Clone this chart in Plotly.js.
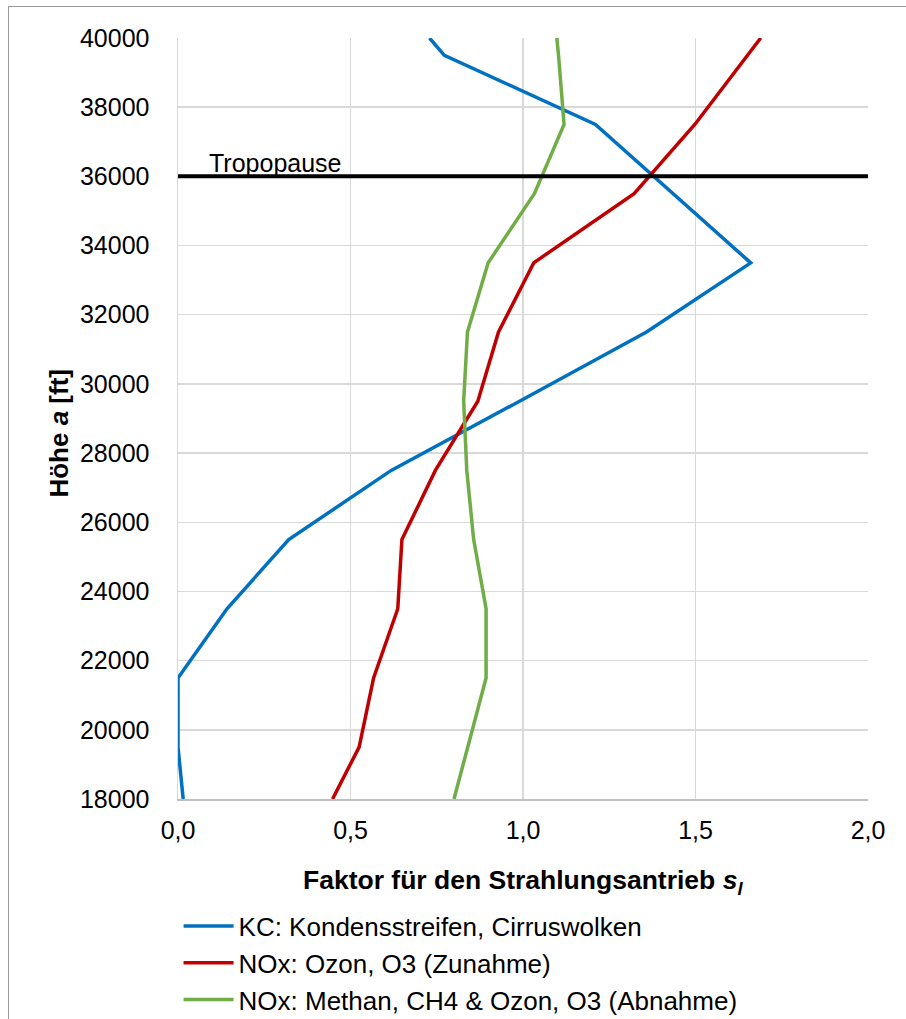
<!DOCTYPE html>
<html>
<head>
<meta charset="utf-8">
<script src="https://cdn.plot.ly/plotly-3.0.1.min.js"></script>
<style>
  html, body { margin:0; padding:0; background:#fff; }
  #wrap { position:relative; width:906px; height:1019px; }
  #chart { width:906px; height:1019px; }
  #frame { position:absolute; left:8px; top:6px; width:910px; height:1030px; border:1.5px solid #9a9a9a; pointer-events:none; box-sizing:border-box; }
</style>
</head>
<body>
<div id="wrap">
  <div id="chart"></div>
  <div id="frame"></div>
</div>
<script>
// Höhe [ft]
const heights = [18000, 19500, 21500, 23500, 25500, 27500, 29500, 31500, 33500, 35500, 37500, 39500, 40000];
// KC: Kondensstreifen, Cirruswolken
const kcValues = [0.015, 0.0, 0.0, 0.142, 0.321, 0.618, 0.99, 1.358, 1.66, 1.435, 1.21, 0.772, 0.729];
// NOx: Ozon, O3 (Zunahme)
const ozonValues = [0.448, 0.525, 0.567, 0.637, 0.649, 0.746, 0.869, 0.929, 1.031, 1.322, 1.498, 1.651, 1.689];
// NOx: Methan, CH4 & Ozon, O3 (Abnahme)
const methanValues = [0.800, 0.840, 0.893, 0.893, 0.857, 0.837, 0.828, 0.839, 0.899, 1.033, 1.119, 1.103, 1.098];

const seriesNames = [
  "KC: Kondensstreifen, Cirruswolken",
  "NOx: Ozon, O3 (Zunahme)",
  "NOx: Methan, CH4 & Ozon, O3 (Abnahme)"
];
const seriesColors = ["#0070C0", "#C00000", "#70AD47"];

const tropopauseHeight = 36000;
const tropopauseLabel = "Tropopause";
const xTicks = [0, 0.5, 1.0, 1.5, 2.0];
const yTicks = [18000, 20000, 22000, 24000, 26000, 28000, 30000, 32000, 34000, 36000, 38000, 40000];
const xRange = [0, 2];
const yRange = [18000, 40000];

const FONT = "Liberation Sans, Arial, sans-serif";

const traces = [kcValues, ozonValues, methanValues].map((vals, i) => ({
  x: vals, y: heights, type: "scatter", mode: "lines",
  name: seriesNames[i],
  line: { color: seriesColors[i], width: 3.5 },
  hoverinfo: "skip"
}));

const layout = {
  width: 906, height: 1019,
  margin: { l: 177.5, r: 37.7, t: 37.5, b: 219.5, autoexpand: false },
  paper_bgcolor: "#fff", plot_bgcolor: "#fff",
  separators: ",.",
  font: { family: FONT, color: "#000", size: 24 },
  showlegend: true,
  legend: {
    x: 0.0008, xanchor: "left", y: -0.136, yanchor: "top",
    font: { family: FONT, size: 26, color: "#000" },
    itemwidth: 50, tracegroupgap: 0, bgcolor: "rgba(0,0,0,0)"
  },
  xaxis: {
    range: xRange, tickvals: xTicks, tickformat: ".1f",
    showgrid: true, gridcolor: "#d9d9d9", gridwidth: 1.5,
    zeroline: false, showline: true, linecolor: "#bfbfbf", linewidth: 2,
    ticks: "", ticklabelstandoff: 8,
    tickfont: { family: FONT, size: 25, color: "#000" },
    fixedrange: true
  },
  yaxis: {
    range: yRange, tickvals: yTicks, tickformat: "d",
    showgrid: true, gridcolor: "#d9d9d9", gridwidth: 1.5,
    zeroline: false, showline: true, linecolor: "#d9d9d9", linewidth: 1.5,
    ticks: "", ticklabelstandoff: 22,
    tickfont: { family: FONT, size: 25, color: "#000" },
    fixedrange: true
  },
  shapes: [{
    type: "line", xref: "x", yref: "y",
    x0: xRange[0], x1: xRange[1], y0: tropopauseHeight, y1: tropopauseHeight,
    line: { color: "#000", width: 4 }
  }],
  annotations: [
    {
      text: tropopauseLabel, xref: "x", yref: "y", x: 0.085, y: tropopauseHeight,
      xanchor: "left", yanchor: "bottom", yshift: -3, showarrow: false,
      font: { family: FONT, size: 25, color: "#000" }
    },
    {
      text: "<b>Faktor für den Strahlungsantrieb <i>s<sub>l</sub></i></b>",
      xref: "paper", yref: "paper", x: 0.5, y: -0.1096,
      xanchor: "center", yanchor: "middle", showarrow: false,
      font: { family: FONT, size: 26.5, color: "#000" }
    },
    {
      text: "<b>Höhe <i>a</i> [ft]</b>",
      xref: "paper", yref: "paper", x: -0.173, y: 0.481, textangle: -90,
      xanchor: "center", yanchor: "middle", showarrow: false,
      font: { family: FONT, size: 26, color: "#000" }
    }
  ]
};

Plotly.newPlot("chart", traces, layout, { displayModeBar: false, staticPlot: true });
</script>
</body>
</html>
